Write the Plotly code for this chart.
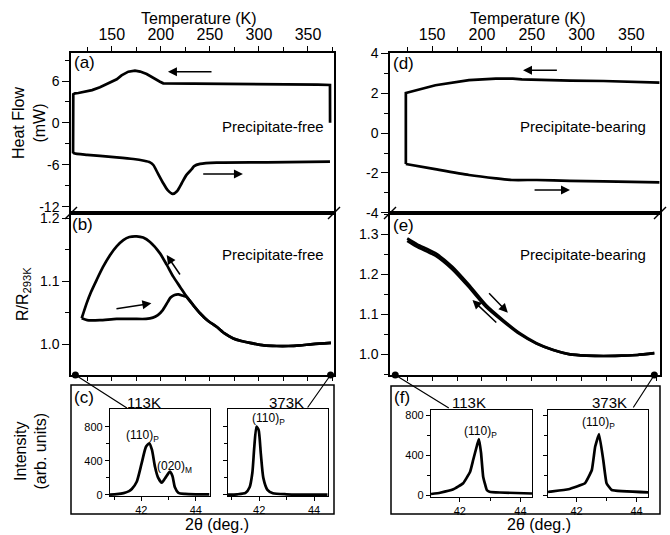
import plotly.graph_objects as go

W, H = 670, 535
def px(x): return x / W
def py(y): return 1 - y / H

FONT = "Liberation Sans, Arial, sans-serif"

# ---------------- data ----------------
# (a) DSC, precipitate-free
a_cool_T = [372.5, 372.4, 360, 324.8, 273.9, 239.9, 210, 202.5, 199.2, 192, 185.6, 179, 173.7, 166.9, 160, 155.1, 146, 138.0, 130, 122, 116, 112.6, 110.8, 110.6]
a_cool_hf = [0.05, 5.43, 5.47, 5.52, 5.57, 5.67, 5.7, 5.67, 5.9, 6.5, 7.0, 7.35, 7.48, 7.33, 6.8, 6.24, 5.6, 5.1, 4.7, 4.4, 4.28, 4.24, 4.1, -4.33]
a_heat_T = [110.8, 111.6, 125, 138.0, 155, 172.1, 183, 189, 192.4, 197, 202.5, 207, 212.1, 216.5, 221.3, 226, 231.5, 234, 240, 256.9, 307.9, 372.4]
a_heat_hf = [-4.2, -4.33, -4.55, -4.71, -4.9, -5.14, -5.4, -5.62, -6.0, -7.2, -8.61, -9.6, -10.14, -9.75, -8.61, -7.45, -6.6, -6.15, -5.85, -5.67, -5.62, -5.52]

# (b) resistance, precipitate-free
b_heat_T = [119.4, 125, 138, 155, 172, 185, 192, 197, 202, 206, 210, 214, 218, 222, 226.4, 233, 240, 248, 256.9, 265, 273.9, 282, 290.9, 305, 318.1, 330, 341.8, 355, 373.4]
b_heat_R = [1.041, 1.038, 1.038, 1.040, 1.040, 1.040, 1.042, 1.046, 1.054, 1.064, 1.074, 1.078, 1.079, 1.077, 1.075, 1.062, 1.049, 1.037, 1.0275, 1.017, 1.009, 1.005, 1.002, 0.998, 0.997, 0.997, 0.998, 1.0, 1.002]
b_cool_T = [373.4, 355, 341.8, 330, 318.1, 305, 290.9, 282, 273.9, 265, 256.9, 248, 240, 233, 226.4, 220, 212.7, 206, 199.2, 189, 182, 175.4, 168, 161.8, 155, 148.2, 141, 134.7, 129, 124.5, 119.4]
b_cool_R = [1.002, 1.0, 0.998, 0.997, 0.997, 0.998, 1.002, 1.005, 1.009, 1.017, 1.0275, 1.037, 1.049, 1.062, 1.075, 1.090, 1.107, 1.126, 1.144, 1.162, 1.169, 1.171, 1.170, 1.165, 1.155, 1.141, 1.122, 1.102, 1.083, 1.065, 1.041]

# (d) DSC, precipitate-bearing
d_cool_T = [378.1, 350, 322, 288.5, 254.7, 240, 231, 214, 187, 170, 153.3, 123.6, 123.6]
d_cool_hf = [2.52, 2.57, 2.60, 2.62, 2.64, 2.68, 2.72, 2.72, 2.64, 2.52, 2.39, 2.0, -1.55]
d_heat_T = [123.6, 153, 187, 214, 230, 255, 288, 322, 350, 378.1]
d_heat_hf = [-1.55, -1.81, -2.10, -2.27, -2.35, -2.35, -2.39, -2.42, -2.44, -2.47]

# (e) resistance, precipitate-bearing
e_T = [125, 135, 153.3, 170.2, 187, 204, 221, 237.8, 254.7, 271.6, 288.5, 305, 322, 340, 356, 373]
e_cool_R = [1.289, 1.274, 1.252, 1.218, 1.1725, 1.1225, 1.085, 1.052, 1.027, 1.010, 0.999, 0.996, 0.995, 0.996, 0.9975, 1.002]
e_heat_R = [1.283, 1.268, 1.246, 1.212, 1.167, 1.118, 1.082, 1.050, 1.026, 1.010, 0.999, 0.996, 0.995, 0.996, 0.9975, 1.002]

# (c) XRD, precipitate-free
c1_tt = [40.85, 41.1, 41.35, 41.55, 41.65, 41.83, 42.01, 42.17, 42.29, 42.39, 42.5, 42.61, 42.75, 42.87, 42.99, 43.05, 43.14, 43.23, 43.36, 43.6, 44.0, 44.5]
c1_I = [5, 10, 22, 45, 70, 155, 370, 565, 605, 527, 331, 207, 144, 195, 254, 273, 222, 90, 25, 12, 8, 8]
c2_tt = [40.85, 41.2, 41.5, 41.65, 41.75, 41.82, 41.9, 41.98, 42.06, 42.15, 42.3, 42.5, 43.0, 43.5, 44.5]
c2_I = [3, 8, 25, 90, 260, 560, 800, 760, 480, 200, 60, 20, 8, 5, 5]

# (f) XRD, precipitate-bearing
f1_tt = [41.05, 41.35, 41.79, 42.11, 42.34, 42.44, 42.57, 42.63, 42.70, 42.77, 42.89, 42.98, 43.32, 44.38]
f1_I = [10, 23, 57, 117, 233, 350, 500, 560, 420, 183, 50, 33, 25, 15]
f2_tt = [41.05, 41.12, 41.73, 42.28, 42.51, 42.62, 42.75, 42.89, 43.0, 43.17, 44.38]
f2_I = [30, 33, 57, 117, 250, 483, 610, 350, 117, 50, 27]

dot_T = [113, 373]

# ---------------- figure ----------------
fig = go.Figure()
LW = 2.7
def line(x, y, xa, ya, shape="spline", w=LW, sm=0.6):
    fig.add_trace(go.Scatter(x=x, y=y, xaxis=xa, yaxis=ya, mode="lines",
                             line=dict(color="black", width=w, shape=shape, smoothing=sm),
                             showlegend=False, hoverinfo="skip"))

line(a_cool_T, a_cool_hf, "x", "y", shape="linear")
line(a_heat_T, a_heat_hf, "x", "y")
line(b_heat_T, b_heat_R, "x2", "y2")
line(b_cool_T, b_cool_R, "x2", "y2")
line(d_cool_T, d_cool_hf, "x3", "y3", shape="linear")
line(d_heat_T, d_heat_hf, "x3", "y3")
line(e_T, e_cool_R, "x4", "y4")
line(e_T, e_heat_R, "x4", "y4")
line(c1_tt, c1_I, "x5", "y5")
line(c2_tt, c2_I, "x6", "y6")
line(f1_tt, f1_I, "x7", "y7", sm=0.3)
line(f2_tt, f2_I, "x8", "y8", sm=0.3)

for xa, ya, yb in [("x2", "y2", 0.951), ("x4", "y4", 0.9475)]:
    fig.add_trace(go.Scatter(x=dot_T, y=[yb, yb], xaxis=xa, yaxis=ya, mode="markers",
                             marker=dict(color="black", size=7), cliponaxis=False,
                             showlegend=False, hoverinfo="skip"))

AX = dict(showline=True, linecolor="black", linewidth=1.5, mirror=True, ticks="outside",
          tickcolor="black", tickwidth=1.3, showgrid=False, zeroline=False,
          tickfont=dict(family=FONT, size=14, color="black"))

def tax(**kw):
    d = dict(AX); d.update(kw); return d

T_major = [150, 200, 250, 300, 350]
T_minor = [125, 175, 225, 275, 325, 375]

LX = [px(71), px(334)]
RX = [px(390), px(660)]
TOP = [py(213), py(53)]
MID = [py(375), py(213)]

lay = dict(template="none", width=W, height=H, margin=dict(l=0, r=0, t=0, b=0),
           font=dict(family=FONT, color="black"),
           paper_bgcolor="white", plot_bgcolor="rgba(0,0,0,0)", showlegend=False)

# (a)
lay["xaxis"] = tax(domain=LX, range=[108.5, 376.5], anchor="y", side="top",
                   tickvals=T_major, ticklen=5, tickfont=dict(family=FONT, size=16, color="black"),
                   minor=dict(tickvals=T_minor, ticklen=4, ticks="outside", tickcolor="black"))
lay["yaxis"] = tax(domain=TOP, range=[-12.86, 10], anchor="x",
                   tickvals=[-12, -6, 0, 6], ticktext=["-12", "-6", "0", "6"], ticklen=7,
                   minor=dict(tickvals=[-9, -3, 3, 9], ticklen=4, ticks="outside", tickcolor="black"))
# (b)
lay["xaxis2"] = tax(domain=LX, range=[108.5, 376.5], anchor="y2", side="bottom",
                    tickvals=T_major + T_minor, ticklen=4, showticklabels=False)
lay["yaxis2"] = tax(domain=MID, range=[0.951, 1.208], anchor="x2",
                    tickvals=[1.0, 1.1, 1.2], ticktext=["1.0", "1.1", "1.2"], ticklen=7,
                    minor=dict(tickvals=[1.05, 1.15], ticklen=4, ticks="outside", tickcolor="black"))
# (d)
lay["xaxis3"] = tax(domain=RX, range=[107.7, 378.7], anchor="y3", side="top",
                    tickvals=T_major, ticklen=5, tickfont=dict(family=FONT, size=16, color="black"),
                    minor=dict(tickvals=T_minor, ticklen=4, ticks="outside", tickcolor="black"))
lay["yaxis3"] = tax(domain=TOP, range=[-4.001, 4.001], anchor="x3",
                    tickvals=[-4, -2, 0, 2, 4], ticktext=["-4", "-2", "0", "2", "4"], ticklen=7,
                    minor=dict(tickvals=[-3, -1, 1, 3], ticklen=4, ticks="outside", tickcolor="black"))
# (e)
lay["xaxis4"] = tax(domain=RX, range=[107.7, 378.7], anchor="y4", side="bottom",
                    tickvals=T_major + T_minor, ticklen=4, showticklabels=False)
lay["yaxis4"] = tax(domain=MID, range=[0.9475, 1.3525], anchor="x4",
                    tickvals=[1.0, 1.1, 1.2, 1.3], ticktext=["1.0", "1.1", "1.2", "1.3"], ticklen=7,
                    minor=dict(tickvals=[0.95, 1.05, 1.15, 1.25, 1.35], ticklen=4, ticks="outside", tickcolor="black"))

IF = dict(family=FONT, size=11, color="black")
def inset(n, xd, yd, xr, yr, ylabels):
    lay[f"xaxis{n}"] = tax(domain=xd, range=xr, anchor=f"y{n}", linewidth=1.2, tickfont=IF,
                           tickvals=[42, 44], ticklen=4,
                           minor=dict(tickvals=[41, 43], ticklen=3, ticks="outside", tickcolor="black"))
    lay[f"yaxis{n}"] = tax(domain=yd, range=yr, anchor=f"x{n}", linewidth=1.2, tickfont=IF,
                           tickvals=[0, 400, 800], ticklen=4, showticklabels=ylabels,
                           minor=dict(tickvals=[200, 600], ticklen=3, ticks="outside", tickcolor="black"))

CY = [py(496), py(409)]
FY = [py(497), py(410)]
inset(5, [px(110), px(209.5)], CY, [40.85, 44.5], [-12, 1007], True)
inset(6, [px(227.7), px(327.7)], CY, [40.85, 44.5], [-12, 1007], False)
inset(7, [px(431), px(532)], FY, [41.05, 44.38], [-20, 850], True)
inset(8, [px(548), px(648)], FY, [41.05, 44.38], [-20, 850], False)

fig.update_layout(**lay)

# shapes: boxes and break marks
shapes = [
    dict(type="rect", xref="paper", yref="paper", x0=px(71), x1=px(334), y0=py(514), y1=py(385),
         line=dict(color="black", width=1.5)),
    dict(type="rect", xref="paper", yref="paper", x0=px(391), x1=px(660), y0=py(514), y1=py(386),
         line=dict(color="black", width=1.5)),
]
for bx in [71, 334, 390, 660]:
    shapes.append(dict(type="line", xref="paper", yref="paper", x0=px(bx - 6), y0=py(219),
                       x1=px(bx + 6), y1=py(207), line=dict(color="black", width=1.4)))
fig.update_layout(shapes=shapes)

ann = []
def text(x, y, s, size=16, angle=0, xanchor="center"):
    ann.append(dict(x=px(x), y=py(y), xref="paper", yref="paper", text=s, showarrow=False,
                    textangle=angle, xanchor=xanchor, yanchor="middle",
                    font=dict(family=FONT, size=size, color="black")))

text(199, 19, "Temperature (K)")
text(527.5, 19, "Temperature (K)")
text(29, 123, "Heat Flow<br>(mW)", angle=-90)
text(23, 294, "R/R<sub>293K</sub>", angle=-90)
text(30.5, 452, "Intensity<br>(arb. units)", angle=-90)
text(216.7, 524, "2θ (deg.)")
text(539, 524, "2θ (deg.)")
text(72, 63, "(a)", 17, xanchor="left")
text(70, 224, "(b)", 17, xanchor="left")
text(72, 397, "(c)", 17, xanchor="left")
text(391, 63.5, "(d)", 17, xanchor="left")
text(391, 226, "(e)", 17, xanchor="left")
text(392, 397, "(f)", 17, xanchor="left")
text(273, 127, "Precipitate-free", 15)
text(273, 255, "Precipitate-free", 15)
text(583, 127, "Precipitate-bearing", 15)
text(583, 255, "Precipitate-bearing", 15)
text(143.7, 402.5, "113K", 15)
text(286, 402.5, "373K", 15)
text(469, 402.5, "113K", 15)
text(609, 402.5, "373K", 15)
text(142.5, 436, "(110)<sub>P</sub>", 12)
text(174, 467, "(020)<sub>M</sub>", 12)
text(268, 419, "(110)<sub>P</sub>", 12)
text(480, 432, "(110)<sub>P</sub>", 12)
text(598.5, 423, "(110)<sub>P</sub>", 12)

# direction arrows (data coords)
def arrow(xa, ya, tail, head):
    ann.append(dict(xref=xa, yref=ya, axref=xa, ayref=ya, x=head[0], y=head[1], ax=tail[0], ay=tail[1],
                    text="", showarrow=True, arrowhead=2, arrowsize=1.2, arrowwidth=1.5,
                    arrowcolor="black", standoff=0, startstandoff=0))

arrow("x", "y", (253.2, 7.33), (207.3, 7.33))
arrow("x", "y", (241.7, -7.29), (283.7, -7.29))
arrow("x2", "y2", (220.6, 1.108), (206.0, 1.1413))
arrow("x2", "y2", (153.3, 1.0556), (190.4, 1.0647))
arrow("x3", "y3", (276.7, 3.14), (241.2, 3.14))
arrow("x3", "y3", (251.3, -2.85), (288.4, -2.85))
arrow("x4", "y4", (205.7, 1.1558), (226.0, 1.1033))
arrow("x4", "y4", (215.9, 1.075), (190.5, 1.135))

# connectors from temperature dots to XRD insets (pixel offsets)
def connector(xa, ya, xv, yv, dx, dy):
    ann.append(dict(xref=xa, yref=ya, x=xv, y=yv, ax=dx, ay=dy, text="", showarrow=True,
                    arrowhead=0, arrowwidth=1.2, arrowcolor="black", standoff=0, startstandoff=0))

connector("x2", "y2", dot_T[0], 0.951, 53, 34)
connector("x2", "y2", dot_T[1], 0.951, -24, 34)
connector("x4", "y4", dot_T[0], 0.9475, 55, 34)
connector("x4", "y4", dot_T[1], 0.9475, -22, 34)

fig.update_layout(annotations=ann)
fig.write_html("out.html")
